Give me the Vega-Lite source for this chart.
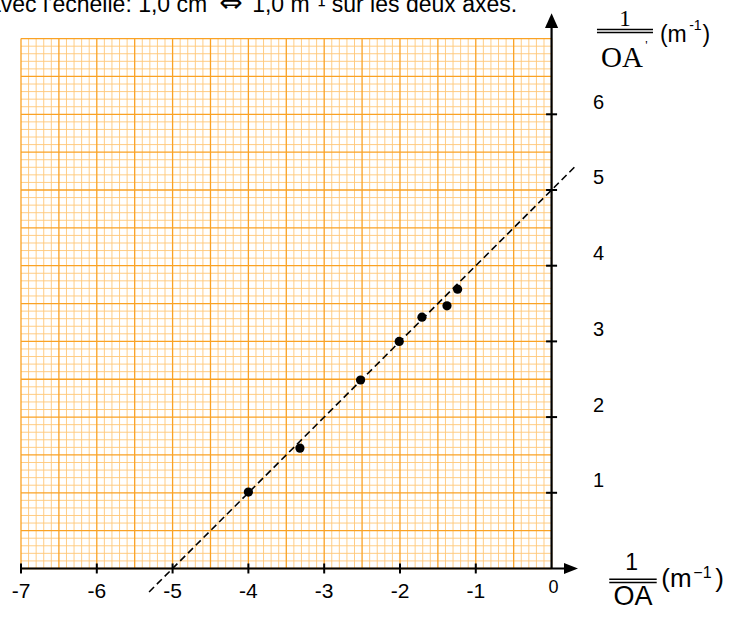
{
  "$schema": "https://vega.github.io/schema/vega-lite/v6.json",
  "width": 730,
  "height": 617,
  "padding": 0,
  "autosize": "none",
  "background": "white",
  "config": {"view": {"stroke": null}, "axis": {"disable": true}},
  "data": {"values": [{}]},
  "datasets": {
    "vminor": [{"v":-6.9},{"v":-6.8},{"v":-6.7},{"v":-6.6},{"v":-6.4},{"v":-6.3},{"v":-6.2},{"v":-6.1},
      {"v":-5.9},{"v":-5.8},{"v":-5.7},{"v":-5.6},{"v":-5.4},{"v":-5.3},{"v":-5.2},{"v":-5.1},
      {"v":-4.9},{"v":-4.8},{"v":-4.7},{"v":-4.6},{"v":-4.4},{"v":-4.3},{"v":-4.2},{"v":-4.1},
      {"v":-3.9},{"v":-3.8},{"v":-3.7},{"v":-3.6},{"v":-3.4},{"v":-3.3},{"v":-3.2},{"v":-3.1},
      {"v":-2.9},{"v":-2.8},{"v":-2.7},{"v":-2.6},{"v":-2.4},{"v":-2.3},{"v":-2.2},{"v":-2.1},
      {"v":-1.9},{"v":-1.8},{"v":-1.7},{"v":-1.6},{"v":-1.4},{"v":-1.3},{"v":-1.2},{"v":-1.1},
      {"v":-0.9},{"v":-0.8},{"v":-0.7},{"v":-0.6},{"v":-0.4},{"v":-0.3},{"v":-0.2},{"v":-0.1}],
    "hminor": [{"v":0.1},{"v":0.2},{"v":0.3},{"v":0.4},{"v":0.6},{"v":0.7},{"v":0.8},{"v":0.9},
      {"v":1.1},{"v":1.2},{"v":1.3},{"v":1.4},{"v":1.6},{"v":1.7},{"v":1.8},{"v":1.9},
      {"v":2.1},{"v":2.2},{"v":2.3},{"v":2.4},{"v":2.6},{"v":2.7},{"v":2.8},{"v":2.9},
      {"v":3.1},{"v":3.2},{"v":3.3},{"v":3.4},{"v":3.6},{"v":3.7},{"v":3.8},{"v":3.9},
      {"v":4.1},{"v":4.2},{"v":4.3},{"v":4.4},{"v":4.6},{"v":4.7},{"v":4.8},{"v":4.9},
      {"v":5.1},{"v":5.2},{"v":5.3},{"v":5.4},{"v":5.6},{"v":5.7},{"v":5.8},{"v":5.9},
      {"v":6.1},{"v":6.2},{"v":6.3},{"v":6.4},{"v":6.6},{"v":6.7},{"v":6.8},{"v":6.9}],
    "vmajor": [{"v":-7},{"v":-6.5},{"v":-6},{"v":-5.5},{"v":-5},{"v":-4.5},{"v":-4},{"v":-3.5},
      {"v":-3},{"v":-2.5},{"v":-2},{"v":-1.5},{"v":-1},{"v":-0.5},{"v":0}],
    "hmajor": [{"v":0},{"v":0.5},{"v":1},{"v":1.5},{"v":2},{"v":2.5},{"v":3},{"v":3.5},
      {"v":4},{"v":4.5},{"v":5},{"v":5.5},{"v":6},{"v":6.5},{"v":7}],
    "xticks": [{"v":-7,"label":"-7"},{"v":-6,"label":"-6"},{"v":-5,"label":"-5"},{"v":-4,"label":"-4"},
      {"v":-3,"label":"-3"},{"v":-2,"label":"-2"},{"v":-1,"label":"-1"}],
    "yticks": [{"v":1,"label":"1"},{"v":2,"label":"2"},{"v":3,"label":"3"},{"v":4,"label":"4"},
      {"v":5,"label":"5"},{"v":6,"label":"6"}],
    "points": [{"x":-4.0,"y":1.01},{"x":-3.32,"y":1.59},{"x":-2.52,"y":2.49},{"x":-2.01,"y":3.0},
      {"x":-1.71,"y":3.32},{"x":-1.38,"y":3.47},{"x":-1.24,"y":3.69}]
  },
  "layer": [
    {
      "data": {"name": "vminor"},
      "mark": {"type": "rule", "color": "#FFC878", "strokeWidth": 1, "opacity": 0.9},
      "encoding": {
        "x": {"field": "v", "type": "quantitative", "scale": {"domain": [-7.277, 2.354], "nice": false, "zero": false}, "axis": null},
        "y": {"datum": 0, "scale": {"domain": [-0.641, 7.51], "nice": false, "zero": false}, "axis": null},
        "y2": {"datum": 7}
      }
    },
    {
      "data": {"name": "hminor"},
      "mark": {"type": "rule", "color": "#FFC878", "strokeWidth": 1, "opacity": 0.9},
      "encoding": {
        "y": {"field": "v", "type": "quantitative"},
        "x": {"datum": -7},
        "x2": {"datum": 0}
      }
    },
    {
      "data": {"name": "vmajor"},
      "mark": {"type": "rule", "color": "#FAA224", "strokeWidth": 1.3},
      "encoding": {
        "x": {"field": "v", "type": "quantitative"},
        "y": {"datum": 0},
        "y2": {"datum": 7}
      }
    },
    {
      "data": {"name": "hmajor"},
      "mark": {"type": "rule", "color": "#FAA224", "strokeWidth": 1.3},
      "encoding": {
        "y": {"field": "v", "type": "quantitative"},
        "x": {"datum": -7},
        "x2": {"datum": 0}
      }
    },
    {
      "mark": {"type": "rule", "color": "black", "strokeWidth": 2.2},
      "encoding": {"x": {"datum": -7}, "x2": {"datum": 0.18}, "y": {"datum": 0}}
    },
    {
      "mark": {"type": "rule", "color": "black", "strokeWidth": 2.2},
      "encoding": {"x": {"datum": 0}, "y": {"datum": 0}, "y2": {"datum": 7.14}}
    },
    {
      "mark": {"type": "point", "shape": "M-1,-0.8L1,0L-1,0.8Z", "size": 196, "filled": true, "color": "black", "opacity": 1},
      "encoding": {"x": {"datum": 0.256}, "y": {"datum": 0}}
    },
    {
      "mark": {"type": "point", "shape": "M0,-1L0.9,1L-0.9,1Z", "size": 213, "filled": true, "color": "black", "opacity": 1},
      "encoding": {"x": {"datum": 0}, "y": {"datum": 7.237}}
    },
    {
      "data": {"name": "xticks"},
      "mark": {"type": "tick", "orient": "vertical", "size": 10, "thickness": 2, "color": "black", "opacity": 1},
      "encoding": {"x": {"field": "v", "type": "quantitative"}, "y": {"datum": 0}}
    },
    {
      "data": {"name": "yticks"},
      "mark": {"type": "tick", "orient": "horizontal", "size": 11, "thickness": 2, "color": "black", "opacity": 1},
      "encoding": {"y": {"field": "v", "type": "quantitative"}, "x": {"datum": 0}}
    },
    {
      "data": {"name": "xticks"},
      "mark": {"type": "text", "font": "Liberation Sans", "fontSize": 21, "align": "center", "baseline": "alphabetic", "dy": 29.5, "color": "black"},
      "encoding": {"x": {"field": "v", "type": "quantitative"}, "y": {"datum": 0}, "text": {"field": "label"}}
    },
    {
      "mark": {"type": "text", "text": "0", "font": "Liberation Sans", "fontSize": 18, "align": "center", "baseline": "alphabetic", "dx": 2, "dy": 24.5, "color": "black"},
      "encoding": {"x": {"datum": 0}, "y": {"datum": 0}}
    },
    {
      "data": {"name": "yticks"},
      "mark": {"type": "text", "font": "Liberation Sans", "fontSize": 20, "align": "center", "baseline": "alphabetic", "dx": 47, "dy": -5.5, "color": "black"},
      "encoding": {"y": {"field": "v", "type": "quantitative"}, "x": {"datum": 0}, "text": {"field": "label"}}
    },
    {
      "mark": {"type": "rule", "color": "black", "strokeWidth": 1.6, "strokeDash": [7, 4]},
      "encoding": {"x": {"datum": -5.31}, "y": {"datum": -0.31}, "x2": {"datum": 0.31}, "y2": {"datum": 5.31}}
    },
    {
      "data": {"name": "points"},
      "mark": {"type": "circle", "size": 85, "color": "black", "opacity": 1},
      "encoding": {"x": {"field": "x", "type": "quantitative"}, "y": {"field": "y", "type": "quantitative"}}
    },
    {
      "mark": {"type": "text", "text": "avec l'échelle: 1,0 cm", "font": "Liberation Sans", "fontSize": 23, "align": "left", "baseline": "alphabetic", "color": "black"},
      "encoding": {"x": {"datum": -7.435}, "y": {"datum": 7.345}}
    },
    {
      "mark": {"type": "text", "text": "⇔", "font": "DejaVu Sans", "fontSize": 28, "align": "center", "baseline": "alphabetic", "color": "black"},
      "encoding": {"x": {"datum": -4.23}, "y": {"datum": 7.345}}
    },
    {
      "mark": {"type": "text", "text": "1,0 m⁻¹ sur les deux axes.", "font": "Liberation Sans", "fontSize": 23, "align": "left", "baseline": "alphabetic", "color": "black"},
      "encoding": {"x": {"datum": -3.95}, "y": {"datum": 7.345}}
    },
    {
      "mark": {"type": "text", "text": "1", "font": "Liberation Serif", "fontSize": 23, "align": "center", "baseline": "alphabetic", "color": "black"},
      "encoding": {"x": {"datum": 0.968}, "y": {"datum": 7.166}}
    },
    {
      "mark": {"type": "rule", "color": "black", "strokeWidth": 1.6},
      "encoding": {"x": {"datum": 0.599}, "x2": {"datum": 1.338}, "y": {"datum": 7.121}}
    },
    {
      "mark": {"type": "rule", "color": "black", "strokeWidth": 1.4},
      "encoding": {"x": {"datum": 0.599}, "x2": {"datum": 1.338}, "y": {"datum": 7.081}}
    },
    {
      "mark": {"type": "text", "text": "OA", "font": "Liberation Serif", "fontSize": 29, "align": "center", "baseline": "alphabetic", "color": "black"},
      "encoding": {"x": {"datum": 0.929}, "y": {"datum": 6.629}}
    },
    {
      "mark": {"type": "text", "text": "'", "font": "Liberation Serif", "fontSize": 13, "align": "center", "baseline": "top", "color": "black"},
      "encoding": {"x": {"datum": 1.25}, "y": {"datum": 6.995}}
    },
    {
      "mark": {"type": "text", "text": "(m", "font": "Liberation Sans", "fontSize": 23, "align": "left", "baseline": "alphabetic", "color": "black"},
      "encoding": {"x": {"datum": 1.43}, "y": {"datum": 6.959}}
    },
    {
      "mark": {"type": "text", "text": "-1", "font": "Liberation Sans", "fontSize": 14, "align": "left", "baseline": "alphabetic", "color": "black"},
      "encoding": {"x": {"datum": 1.815}, "y": {"datum": 7.114}}
    },
    {
      "mark": {"type": "text", "text": ")", "font": "Liberation Sans", "fontSize": 23, "align": "left", "baseline": "alphabetic", "color": "black"},
      "encoding": {"x": {"datum": 1.99}, "y": {"datum": 6.959}}
    },
    {
      "mark": {"type": "text", "text": "1", "font": "Liberation Sans", "fontSize": 23, "align": "center", "baseline": "alphabetic", "color": "black"},
      "encoding": {"x": {"datum": 1.057}, "y": {"datum": -0.02}}
    },
    {
      "mark": {"type": "rule", "color": "black", "strokeWidth": 1.6},
      "encoding": {"x": {"datum": 0.761}, "x2": {"datum": 1.387}, "y": {"datum": -0.143}}
    },
    {
      "mark": {"type": "rule", "color": "black", "strokeWidth": 1.4},
      "encoding": {"x": {"datum": 0.761}, "x2": {"datum": 1.387}, "y": {"datum": -0.185}}
    },
    {
      "mark": {"type": "text", "text": "OA", "font": "Liberation Sans", "fontSize": 27, "align": "center", "baseline": "alphabetic", "color": "black"},
      "encoding": {"x": {"datum": 1.075}, "y": {"datum": -0.48}}
    },
    {
      "mark": {"type": "text", "text": "(m", "font": "Liberation Sans", "fontSize": 26, "align": "left", "baseline": "alphabetic", "color": "black"},
      "encoding": {"x": {"datum": 1.448}, "y": {"datum": -0.24}}
    },
    {
      "mark": {"type": "text", "text": "−1", "font": "Liberation Sans", "fontSize": 16, "align": "left", "baseline": "alphabetic", "color": "black"},
      "encoding": {"x": {"datum": 1.87}, "y": {"datum": -0.12}}
    },
    {
      "mark": {"type": "text", "text": ")", "font": "Liberation Sans", "fontSize": 26, "align": "left", "baseline": "alphabetic", "color": "black"},
      "encoding": {"x": {"datum": 2.16}, "y": {"datum": -0.24}}
    }
  ]
}
